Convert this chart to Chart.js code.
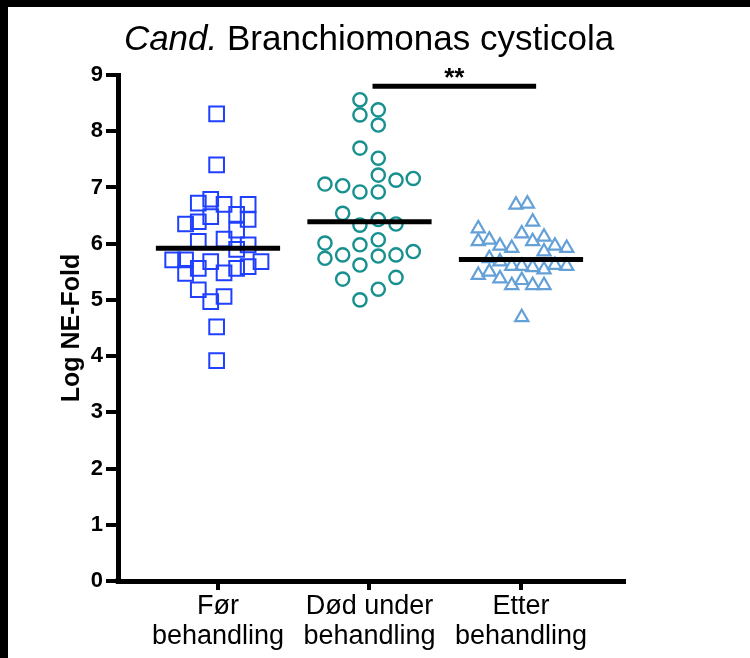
<!DOCTYPE html>
<html>
<head>
<meta charset="utf-8">
<script src="https://cdn.jsdelivr.net/npm/chart.js@4.4.1/dist/chart.umd.min.js"></script>
<style>
  html, body { margin: 0; padding: 0; background: #fff; }
  canvas { display: block; }
</style>
</head>
<body>
<canvas id="chart" width="750" height="658"></canvas>
<script>
// groups on the x axis (value 1, 2, 3)
const groupLabels = [['Før', 'behandling'], ['Død under', 'behandling'], ['Etter', 'behandling']];
const yTicks = [0, 1, 2, 3, 4, 5, 6, 7, 8, 9];

// Før behandling (squares)
const forX = [0.991, 0.991, 0.870, 0.952, 1.040, 1.199, 0.952, 1.123, 1.199, 0.786,
              0.870, 1.123, 0.870, 1.040, 1.123, 1.199, 0.701, 0.786, 0.870, 0.952,
              1.040, 1.123, 1.199, 1.284, 0.786, 0.870, 0.952, 1.040, 0.991, 0.991];
const forY = [8.31, 7.40, 6.72, 6.79, 6.70, 6.70, 6.48, 6.52, 6.43, 6.35,
              6.39, 6.24, 6.04, 6.08, 5.90, 5.98, 5.71, 5.71, 5.56, 5.68,
              5.48, 5.56, 5.59, 5.68, 5.47, 5.18, 4.97, 5.06, 4.52, 3.92];

// Død under behandling (circles)
const dodX = [1.937, 1.937, 2.058, 2.058, 1.937, 2.058, 2.058, 2.175, 2.289, 1.706,
              1.823, 1.937, 2.058, 1.823, 1.937, 2.058, 2.175, 1.706, 1.706, 1.823,
              1.937, 2.058, 2.058, 2.175, 2.289, 1.937, 1.823, 2.175, 2.058, 1.937];
const dodY = [8.56, 8.29, 8.38, 8.11, 7.70, 7.52, 7.22, 7.13, 7.16, 7.06,
              7.03, 6.92, 6.92, 6.54, 6.33, 6.43, 6.35, 6.01, 5.74, 5.80,
              5.98, 6.07, 5.78, 5.80, 5.86, 5.62, 5.37, 5.40, 5.19, 5.00];

// Etter behandling (triangles)
const etterX = [2.967, 3.042, 3.077, 2.718, 3.005, 2.718, 2.791, 2.861, 2.939, 3.077,
                3.152, 3.224, 3.302, 3.152, 2.791, 2.861, 2.939, 3.005, 3.077, 3.152,
                3.224, 3.302, 2.718, 2.791, 2.861, 2.939, 3.005, 3.077, 3.152, 3.005];
const etterY = [6.69, 6.71, 6.39, 6.27, 6.18, 6.04, 6.07, 5.96, 5.92, 6.04,
                6.12, 5.96, 5.92, 5.86, 5.74, 5.68, 5.60, 5.60, 5.58, 5.54,
                5.62, 5.60, 5.44, 5.50, 5.38, 5.26, 5.35, 5.26, 5.26, 4.69];

const groupMeans = [5.92, 6.39, 5.72];

// significance bracket between group 2 and 3
const sigFrom = 2.02;
const sigTo = 3.1;
const sigLevel = 8.8;
const sigText = '**';

const titleItalic = 'Cand.';
const titleRest = ' Branchiomonas cysticola';
const yTitle = 'Log NE-Fold';

const FONT = '"Liberation Sans", Arial, sans-serif';

function pts(xs, ys) {
    return xs.map((x, i) => ({ x: x, y: ys[i] }));
}

const meanHalf = 0.41;
const meanSets = groupMeans.map((m, i) => ({
    data: [{ x: i + 1 - meanHalf, y: m }, { x: i + 1 + meanHalf, y: m }],
    showLine: true,
    borderColor: '#000',
    borderWidth: 5,
    pointRadius: 0,
    order: 0
}));

const decor = {
    id: 'decor',
    beforeDraw(chart) {
        const ctx = chart.ctx;
        ctx.save();
        ctx.fillStyle = '#fff';
        ctx.fillRect(0, 0, chart.width, chart.height);
        // black frame left and top of the screenshot
        ctx.fillStyle = '#000';
        ctx.fillRect(0, 0, chart.width, 7);
        ctx.fillRect(0, 0, 8, chart.height);
        ctx.restore();
    },
    afterDraw(chart) {
        const ctx = chart.ctx;
        const area = chart.chartArea;
        ctx.save();
        ctx.fillStyle = '#000';
        ctx.textBaseline = 'alphabetic';
        ctx.textAlign = 'left';
        const fItalic = 'italic 35px ' + FONT;
        const fNormal = '35px ' + FONT;
        ctx.font = fItalic;
        const w1 = ctx.measureText(titleItalic).width;
        ctx.font = fNormal;
        const w2 = ctx.measureText(titleRest).width;
        let x = (area.left + area.right) / 2 - 2 - (w1 + w2) / 2;
        ctx.font = fItalic;
        ctx.fillText(titleItalic, x, 50);
        ctx.font = fNormal;
        ctx.fillText(titleRest, x + w1, 50);

        // stars over the bracket
        const xs = chart.scales.x, ys = chart.scales.y;
        ctx.font = 'bold 26px ' + FONT;
        ctx.textAlign = 'center';
        ctx.fillText(sigText, xs.getPixelForValue((sigFrom + sigTo) / 2), ys.getPixelForValue(sigLevel));

        // close the corner where the two axes meet
        ctx.fillRect(area.left - 2.5, area.bottom - 2.5, 5, 5);
        ctx.restore();
    }
};

new Chart(document.getElementById('chart'), {
    type: 'scatter',
    data: {
        datasets: [
            ...meanSets,
            {
                data: [{ x: sigFrom, y: sigLevel }, { x: sigTo, y: sigLevel }],
                showLine: true,
                borderColor: '#000',
                borderWidth: 5,
                pointRadius: 0,
                order: 0
            },
            {
                data: pts(forX, forY),
                pointStyle: 'rect',
                pointRadius: 10.4,
                borderWidth: 2,
                borderColor: '#2040ff',
                backgroundColor: 'rgba(0,0,0,0)',
                order: 1
            },
            {
                data: pts(dodX, dodY),
                pointStyle: 'circle',
                pointRadius: 6.6,
                borderWidth: 2.4,
                borderColor: '#17908f',
                backgroundColor: 'rgba(0,0,0,0)',
                order: 1
            },
            {
                data: pts(etterX, etterY),
                pointStyle: 'triangle',
                pointRadius: 7.6,
                borderWidth: 2.2,
                borderColor: '#64a0d8',
                backgroundColor: 'rgba(0,0,0,0)',
                order: 1
            }
        ]
    },
    options: {
        responsive: false,
        animation: false,
        devicePixelRatio: 1,
        layout: { padding: { left: 0, top: 75, right: 126, bottom: 0 } },
        plugins: {
            legend: { display: false },
            tooltip: { enabled: false }
        },
        scales: {
            x: {
                type: 'linear',
                min: 0.34,
                max: 3.68,
                afterFit: s => { s.height = 77; },
                afterBuildTicks: s => { s.ticks = groupLabels.map((l, i) => ({ value: i + 1 })); },
                border: { display: true, width: 5, color: '#000' },
                grid: { drawOnChartArea: false, color: '#000', tickLength: 9, tickWidth: 4, lineWidth: 4 },
                ticks: {
                    autoSkip: false,
                    maxRotation: 0,
                    padding: 2,
                    color: '#000',
                    font: { family: FONT, size: 27, lineHeight: 1.1 },
                    callback: v => groupLabels[v - 1]
                }
            },
            y: {
                min: 0,
                max: 9,
                afterFit: s => { s.width = 118; },
                afterBuildTicks: s => { s.ticks = yTicks.map(v => ({ value: v })); },
                border: { display: true, width: 5, color: '#000' },
                grid: { drawOnChartArea: false, color: '#000', tickLength: 12, tickWidth: 4, lineWidth: 4 },
                ticks: {
                    padding: 3,
                    color: '#000',
                    font: { family: FONT, size: 22, weight: 'bold' }
                },
                title: {
                    display: true,
                    text: yTitle,
                    color: '#000',
                    padding: { top: 57, bottom: 0 },
                    font: { family: FONT, size: 25, weight: 'bold' }
                }
            }
        }
    },
    plugins: [decor]
});
</script>
</body>
</html>
